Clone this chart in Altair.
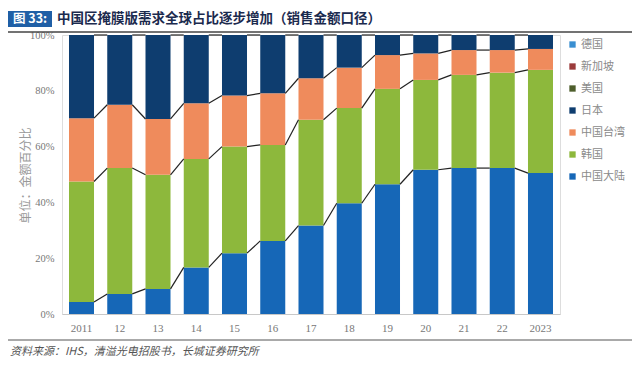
import altair as alt
import pandas as pd

years = ["2011", "12", "13", "14", "15", "16", "17", "18", "19", "20", "21", "22", "2023"]
mainland = [4.3, 7.2, 9.0, 16.7, 21.8, 26.2, 31.7, 39.7, 46.5, 51.7, 52.3, 52.3, 50.5]
korea = [43.2, 45.1, 40.9, 38.9, 38.2, 34.4, 37.9, 34.1, 34.2, 32.2, 33.4, 34.2, 37.0]
taiwan = [22.7, 22.7, 20.0, 19.9, 18.3, 18.5, 14.9, 14.5, 12.1, 9.5, 8.9, 8.1, 7.5]
japan = [29.8, 25.0, 30.1, 24.5, 21.7, 20.9, 15.5, 11.7, 7.2, 6.6, 5.4, 5.4, 5.0]
usa = [0.0, 0.0, 0.0, 0.0, 0.0, 0.0, 0.0, 0.0, 0.0, 0.0, 0.0, 0.0, 0.0]
singapore = [0.0, 0.0, 0.0, 0.0, 0.0, 0.0, 0.0, 0.0, 0.0, 0.0, 0.0, 0.0, 0.0]
germany = [0.0, 0.0, 0.0, 0.0, 0.0, 0.0, 0.0, 0.0, 0.0, 0.0, 0.0, 0.0, 0.0]

stack_names = ["中国大陆", "韩国", "中国台湾", "日本", "美国", "新加坡", "德国"]
stack_values = [mainland, korea, taiwan, japan, usa, singapore, germany]
stack_colors = ["#1667B7", "#8DB83C", "#EF8B5C", "#0E3D6F", "#4E5E2C", "#9B3B3B", "#3A8FD1"]

title_text = "中国区掩膜版需求全球占比逐步增加（销售金额口径）"
fig_label = "图 33:"
source_text = "资料来源：IHS，清溢光电招股书，长城证券研究所"
y_title = "单位：金额百分比"

rows = []
for si, (name, vals) in enumerate(zip(stack_names, stack_values)):
    for yi, yr in enumerate(years):
        rows.append({"year": yr, "country": name, "share": vals[yi], "idx": si})
df = pd.DataFrame(rows)

# connector lines between tops of segments
cum = []
running = [0.0] * len(years)
for vals in stack_values[:4]:
    running = [r + v for r, v in zip(running, vals)]
    cum.append(list(running))
conn_rows = []
for b in cum:
    for i in range(len(years) - 1):
        conn_rows.append({"x0": years[i], "x1": years[i + 1], "y0": b[i], "y1": b[i + 1]})
conn = pd.DataFrame(conn_rows)

legend_order = stack_names[::-1]
legend_colors = stack_colors[::-1]

xscale = alt.Scale(domain=years, paddingInner=0.346, paddingOuter=0.183)
yscale = alt.Scale(domain=[0, 100])
num_font = "Liberation Serif"
cjk_font = "Noto Sans CJK SC"

xaxis = alt.Axis(title=None, labelAngle=0, ticks=False, domain=True, domainColor="#c8c8c8",
                 labelFont=num_font, labelFontSize=11, labelColor="#777777", labelPadding=8)
yaxis = alt.Axis(values=[0, 20, 40, 60, 80, 100], labelExpr="datum.value + '%'", grid=False,
                 domain=False, ticks=False, labelFont=num_font, labelFontSize=10.5,
                 labelColor="#777777", labelPadding=8, title=y_title, titleFont=cjk_font,
                 titleFontSize=12, titleFontWeight="normal", titleColor="#999999",
                 titleX=-37, titleY=140, titleAngle=-90, titleAlign="center",
                 titleBaseline="middle")

bars = alt.Chart(df).mark_bar().encode(
    x=alt.X("year:N", scale=xscale, axis=xaxis),
    y=alt.Y("share:Q", stack="zero", scale=yscale, axis=yaxis),
    color=alt.Color("country:N", scale=alt.Scale(domain=legend_order, range=legend_colors),
                    legend=alt.Legend(title=None, orient="none", legendX=505, legendY=4,
                                      direction="vertical", symbolType="square", symbolSize=40,
                                      symbolStrokeWidth=0, labelFont=cjk_font, labelFontSize=11,
                                      labelColor="#8a8a8a", rowPadding=10, padding=0,
                                      labelOffset=3)),
    order=alt.Order("idx:Q", sort="ascending"),
)

rules = alt.Chart(conn).mark_rule(color="#222222", strokeWidth=1.2).encode(
    x=alt.X("x0:N", scale=xscale, axis=xaxis, bandPosition=1),
    x2=alt.X2("x1", bandPosition=0),
    y=alt.Y("y0:Q", scale=yscale),
    y2="y1",
)

ann = pd.DataFrame({"t": [title_text], "f": [fig_label], "s": [source_text]})
base = alt.Chart(ann)
box = base.mark_rect(color="#1F5FA6").encode(
    x=alt.value(-54), x2=alt.value(-10), y=alt.value(-24), y2=alt.value(-8))
box_text = base.mark_text(color="white", fontWeight="bold", fontSize=12.5, font=cjk_font,
                          align="center", baseline="middle").encode(
    x=alt.value(-32), y=alt.value(-16), text="f:N")
title = base.mark_text(color="#1B2A4E", fontWeight="bold", fontSize=13.5, font=cjk_font,
                       align="left", baseline="middle").encode(
    x=alt.value(-5), y=alt.value(-16), text="t:N")
top_line = base.mark_rule(color="#444444", strokeWidth=1.5).encode(
    x=alt.value(-54), x2=alt.value(570), y=alt.value(-3))
bottom_line = base.mark_rule(color="#555555", strokeWidth=1).encode(
    x=alt.value(-54), x2=alt.value(570), y=alt.value(305))
source = base.mark_text(color="#555555", fontSize=11, font=cjk_font, fontStyle="italic",
                        align="left", baseline="middle").encode(
    x=alt.value(-52), y=alt.value(317), text="s:N")

chart = alt.layer(bars, rules, box, box_text, title, top_line, bottom_line, source).properties(
    width=498, height=279,
    autosize=alt.AutoSizeParams(type="none"),
    padding={"left": 54, "top": 27, "right": 72, "bottom": 53},
).configure_view(stroke=None).configure(background="white")

chart.save("out.html", embed_options={"renderer": "svg", "actions": False})
